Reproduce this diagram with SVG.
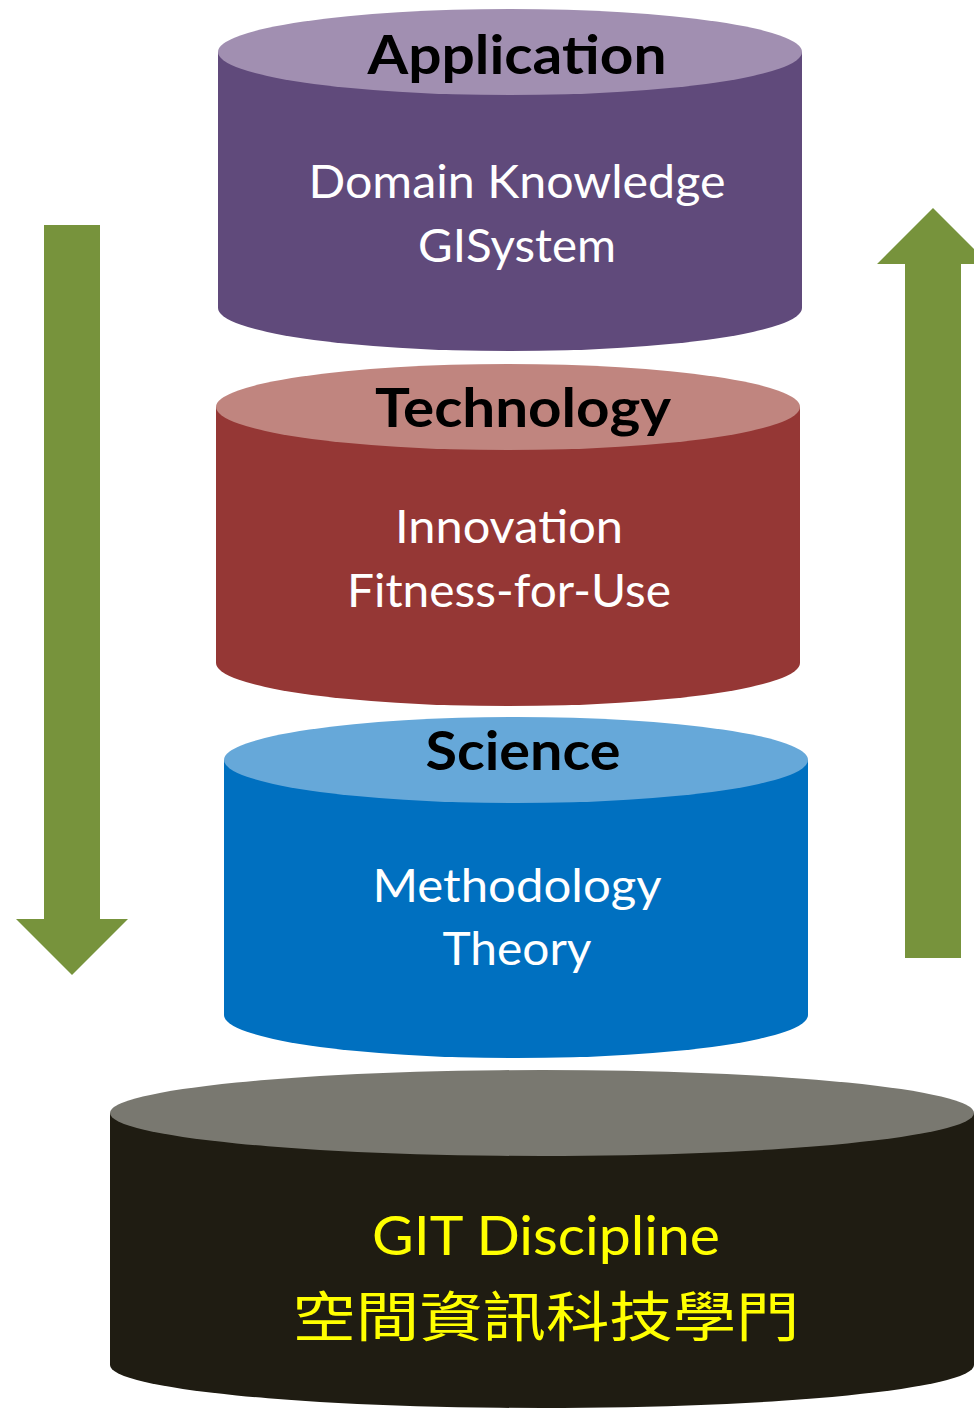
<svg xmlns="http://www.w3.org/2000/svg" width="974" height="1408" viewBox="0 0 974 1408">
<style>
.title{font-family:Lato,"Open Sans","Liberation Sans",sans-serif;font-weight:bold;font-size:54px;fill:#000;text-anchor:middle}
.sub{font-family:Lato,"Open Sans","Liberation Sans",sans-serif;font-size:46px;fill:#fff;text-anchor:middle}
.git{font-family:Lato,"Open Sans","Liberation Sans","Noto Sans CJK TC",sans-serif;font-size:54px;fill:#FFFF00;text-anchor:middle}
.arrow{fill:#77933C}
</style>
<rect width="974" height="1408" fill="#fff"/>
<g id="connectors">
<polygon class="arrow" points="44,225 100,225 100,919 128,919 72,975 16,919 44,919"/>
<polygon class="arrow" points="905,958 961,958 961,264 989,264 933,208 877,264 905,264"/>
</g>
<g id="application">
<path d="M218,52 L218,308 A292,43 0 0 0 802,308 L802,52 Z" fill="#604A7B"/>
<ellipse cx="510" cy="52" rx="292" ry="43" fill="#A18FB1"/>
<text class="title" x="517" y="74" textLength="299" lengthAdjust="spacingAndGlyphs">Application</text>
<text class="sub" x="517" y="198" textLength="417" lengthAdjust="spacingAndGlyphs">Domain Knowledge</text>
<text class="sub" x="517" y="262" textLength="198" lengthAdjust="spacingAndGlyphs">GISystem</text>
</g>
<g id="technology">
<path d="M216,407 L216,663 A292,43 0 0 0 800,663 L800,407 Z" fill="#953735"/>
<ellipse cx="508" cy="407" rx="292" ry="43" fill="#C0857F"/>
<text class="title" x="523" y="427" textLength="296" lengthAdjust="spacingAndGlyphs">Technology</text>
<text class="sub" x="509" y="543" textLength="228" lengthAdjust="spacingAndGlyphs">Innovation</text>
<text class="sub" x="509" y="607" textLength="324" lengthAdjust="spacingAndGlyphs">Fitness-for-Use</text>
</g>
<g id="science">
<path d="M224,760 L224,1015 A292,43 0 0 0 808,1015 L808,760 Z" fill="#0070C0"/>
<ellipse cx="516" cy="760" rx="292" ry="43" fill="#66A8D9"/>
<text class="title" x="523" y="770" textLength="195" lengthAdjust="spacingAndGlyphs">Science</text>
<text class="sub" x="517" y="902" textLength="289" lengthAdjust="spacingAndGlyphs">Methodology</text>
<text class="sub" x="517" y="965" textLength="149" lengthAdjust="spacingAndGlyphs">Theory</text>
</g>
<g id="git">
<path d="M110,1113 L110,1365 A432,43 0 0 0 974,1365 L974,1113 Z" fill="#1F1C12"/>
<ellipse cx="542" cy="1113" rx="432" ry="43" fill="#797870"/>
<text class="git" x="546" y="1255" textLength="348" lengthAdjust="spacingAndGlyphs">GIT Discipline</text>
<text class="git" x="546" y="1337" font-size="60" textLength="507" lengthAdjust="spacingAndGlyphs">空間資訊科技學門</text>
</g>
</svg>
